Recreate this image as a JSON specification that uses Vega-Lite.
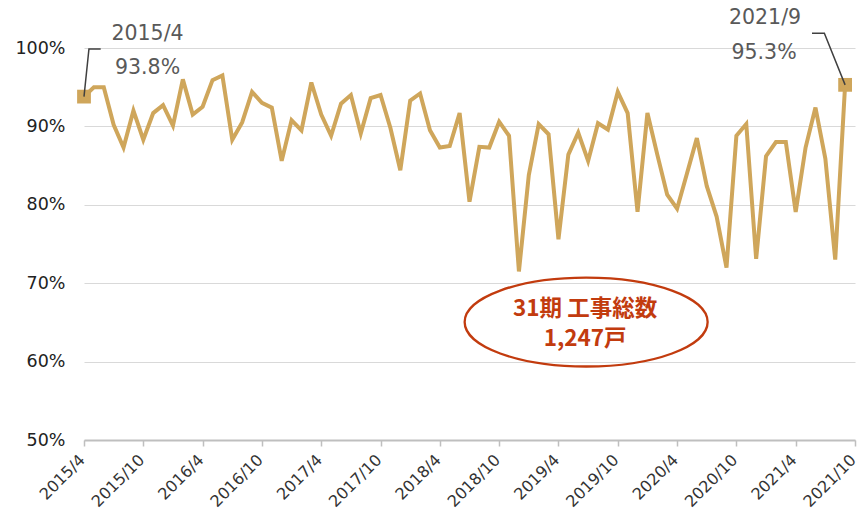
{
  "$schema": "https://vega.github.io/schema/vega-lite/v6.json",
  "width": 771,
  "height": 392,
  "autosize": {"type": "none"},
  "padding": {"left": 84, "top": 48, "right": 5, "bottom": 70},
  "background": "white",
  "config": {"view": {"stroke": null}, "font": "DejaVu Sans"},
  "datasets": {
    "rate": [
      {"idx": 0, "month": "2015/4", "v": 93.8}, {"idx": 1, "month": "2015/5", "v": 95.0}, {"idx": 2, "month": "2015/6", "v": 95.0},
      {"idx": 3, "month": "2015/7", "v": 90.2}, {"idx": 4, "month": "2015/8", "v": 87.3}, {"idx": 5, "month": "2015/9", "v": 92.0},
      {"idx": 6, "month": "2015/10", "v": 88.3}, {"idx": 7, "month": "2015/11", "v": 91.7}, {"idx": 8, "month": "2015/12", "v": 92.7},
      {"idx": 9, "month": "2016/1", "v": 90.1}, {"idx": 10, "month": "2016/2", "v": 96.0}, {"idx": 11, "month": "2016/3", "v": 91.5},
      {"idx": 12, "month": "2016/4", "v": 92.5}, {"idx": 13, "month": "2016/5", "v": 95.9}, {"idx": 14, "month": "2016/6", "v": 96.5},
      {"idx": 15, "month": "2016/7", "v": 88.3}, {"idx": 16, "month": "2016/8", "v": 90.5}, {"idx": 17, "month": "2016/9", "v": 94.4},
      {"idx": 18, "month": "2016/10", "v": 93.0}, {"idx": 19, "month": "2016/11", "v": 92.4}, {"idx": 20, "month": "2016/12", "v": 85.6},
      {"idx": 21, "month": "2017/1", "v": 90.8}, {"idx": 22, "month": "2017/2", "v": 89.5}, {"idx": 23, "month": "2017/3", "v": 95.6},
      {"idx": 24, "month": "2017/4", "v": 91.5}, {"idx": 25, "month": "2017/5", "v": 88.8}, {"idx": 26, "month": "2017/6", "v": 92.9},
      {"idx": 27, "month": "2017/7", "v": 94.0}, {"idx": 28, "month": "2017/8", "v": 89.1}, {"idx": 29, "month": "2017/9", "v": 93.6},
      {"idx": 30, "month": "2017/10", "v": 94.0}, {"idx": 31, "month": "2017/11", "v": 89.8}, {"idx": 32, "month": "2017/12", "v": 84.4},
      {"idx": 33, "month": "2018/1", "v": 93.3}, {"idx": 34, "month": "2018/2", "v": 94.2}, {"idx": 35, "month": "2018/3", "v": 89.5},
      {"idx": 36, "month": "2018/4", "v": 87.3}, {"idx": 37, "month": "2018/5", "v": 87.5}, {"idx": 38, "month": "2018/6", "v": 91.7},
      {"idx": 39, "month": "2018/7", "v": 80.4}, {"idx": 40, "month": "2018/8", "v": 87.4}, {"idx": 41, "month": "2018/9", "v": 87.3},
      {"idx": 42, "month": "2018/10", "v": 90.6}, {"idx": 43, "month": "2018/11", "v": 88.8}, {"idx": 44, "month": "2018/12", "v": 71.5},
      {"idx": 45, "month": "2019/1", "v": 83.8}, {"idx": 46, "month": "2019/2", "v": 90.3}, {"idx": 47, "month": "2019/3", "v": 89.0},
      {"idx": 48, "month": "2019/4", "v": 75.6}, {"idx": 49, "month": "2019/5", "v": 86.4}, {"idx": 50, "month": "2019/6", "v": 89.2},
      {"idx": 51, "month": "2019/7", "v": 85.6}, {"idx": 52, "month": "2019/8", "v": 90.4}, {"idx": 53, "month": "2019/9", "v": 89.6},
      {"idx": 54, "month": "2019/10", "v": 94.4}, {"idx": 55, "month": "2019/11", "v": 91.7}, {"idx": 56, "month": "2019/12", "v": 79.1},
      {"idx": 57, "month": "2020/1", "v": 91.7}, {"idx": 58, "month": "2020/2", "v": 86.4}, {"idx": 59, "month": "2020/3", "v": 81.3},
      {"idx": 60, "month": "2020/4", "v": 79.5}, {"idx": 61, "month": "2020/5", "v": 84.0}, {"idx": 62, "month": "2020/6", "v": 88.5},
      {"idx": 63, "month": "2020/7", "v": 82.4}, {"idx": 64, "month": "2020/8", "v": 78.5}, {"idx": 65, "month": "2020/9", "v": 72.0},
      {"idx": 66, "month": "2020/10", "v": 88.8}, {"idx": 67, "month": "2020/11", "v": 90.3}, {"idx": 68, "month": "2020/12", "v": 73.1},
      {"idx": 69, "month": "2021/1", "v": 86.2}, {"idx": 70, "month": "2021/2", "v": 88.0}, {"idx": 71, "month": "2021/3", "v": 88.0},
      {"idx": 72, "month": "2021/4", "v": 79.1}, {"idx": 73, "month": "2021/5", "v": 87.3}, {"idx": 74, "month": "2021/6", "v": 92.4},
      {"idx": 75, "month": "2021/7", "v": 85.9}, {"idx": 76, "month": "2021/8", "v": 73.0}, {"idx": 77, "month": "2021/9", "v": 95.3}
    ],
    "leaders": [
      {"g": "L", "o": 0, "idx": 0, "v": 93.8}, {"g": "L", "o": 1, "idx": 0.5, "v": 99.87}, {"g": "L", "o": 2, "idx": 1.69, "v": 99.87},
      {"g": "R", "o": 0, "idx": 73.65, "v": 101.87}, {"g": "R", "o": 1, "idx": 74.9, "v": 101.87}, {"g": "R", "o": 2, "idx": 77, "v": 95.3}
    ],
    "labels": [
      {"idx": 6.43, "v": 101.8, "t": "2015/4"}, {"idx": 6.43, "v": 97.45, "t": "93.8%"},
      {"idx": 68.9, "v": 103.8, "t": "2021/9"}, {"idx": 68.8, "v": 99.36, "t": "95.3%"}
    ],
    "callout": [{"idx": 50.8, "v": 65.05}],
    "callouttext": [
      {"idx": 50.7, "v": 66.65, "t": "31期 工事総数"}, {"idx": 50.7, "v": 62.85, "t": "1,247戸"}
    ]
  },
  "layer": [
    {
      "data": {"name": "rate"},
      "mark": {"type": "line", "color": "#CFA65B", "strokeWidth": 4},
      "encoding": {
        "x": {
          "field": "idx", "type": "quantitative",
          "scale": {"domain": [0, 78], "nice": false, "zero": false},
          "axis": {
            "title": null, "grid": false,
            "values": [0, 6, 12, 18, 24, 30, 36, 42, 48, 54, 60, 66, 72, 78],
            "labelExpr": "(2015 + floor((datum.value + 3) / 12)) + '/' + ((datum.value + 3) % 12 + 1)",
            "labelAngle": -45, "labelAlign": "right", "labelBaseline": "middle",
            "labelFontSize": 16, "labelColor": "#333333", "labelPadding": 11, "labelOffset": -2,
            "domainColor": "#bfbfbf", "domainWidth": 2, "tickColor": "#bfbfbf", "tickWidth": 1.5, "tickSize": 6,
            "labelOverlap": false, "labelFlush": false
          }
        },
        "y": {
          "field": "v", "type": "quantitative",
          "scale": {"domain": [50, 100], "nice": false, "zero": false},
          "axis": {
            "title": null, "values": [50, 60, 70, 80, 90, 100],
            "labelExpr": "datum.value + '%'",
            "domain": false, "ticks": false, "labelPadding": 19,
            "labelFontSize": 17.5, "labelColor": "#222222",
            "gridColor": "#d9d9d9", "gridWidth": 1.2
          }
        }
      }
    },
    {
      "data": {"name": "rate"},
      "transform": [{"filter": "datum.idx == 0 || datum.idx == 77"}],
      "mark": {"type": "point", "shape": "square", "filled": true, "size": 190, "color": "#CFA65B", "opacity": 1},
      "encoding": {
        "x": {"field": "idx", "type": "quantitative"},
        "y": {"field": "v", "type": "quantitative"}
      }
    },
    {
      "data": {"name": "leaders"},
      "mark": {"type": "line", "color": "#404040", "strokeWidth": 1.5, "clip": false},
      "encoding": {
        "x": {"field": "idx", "type": "quantitative"},
        "y": {"field": "v", "type": "quantitative"},
        "detail": {"field": "g"},
        "order": {"field": "o"}
      }
    },
    {
      "data": {"name": "labels"},
      "mark": {"type": "text", "fontSize": 20.5, "color": "#595959", "align": "center", "baseline": "middle"},
      "encoding": {
        "x": {"field": "idx", "type": "quantitative"},
        "y": {"field": "v", "type": "quantitative"},
        "text": {"field": "t"}
      }
    },
    {
      "data": {"name": "callout"},
      "mark": {
        "type": "point", "filled": false, "stroke": "#C23B0E", "strokeWidth": 2.3, "opacity": 1, "size": 59049,
        "shape": "M 1 0 C 1 0.2022 0.5523 0.366 0 0.366 C -0.5523 0.366 -1 0.2022 -1 0 C -1 -0.2022 -0.5523 -0.366 0 -0.366 C 0.5523 -0.366 1 -0.2022 1 0 Z"
      },
      "encoding": {
        "x": {"field": "idx", "type": "quantitative"},
        "y": {"field": "v", "type": "quantitative"}
      }
    },
    {
      "data": {"name": "callouttext"},
      "mark": {"type": "text", "font": "Noto Sans CJK JP", "fontWeight": "bold", "fontSize": 22.5, "color": "#C23B0E", "align": "center", "baseline": "middle"},
      "encoding": {
        "x": {"field": "idx", "type": "quantitative"},
        "y": {"field": "v", "type": "quantitative"},
        "text": {"field": "t"}
      }
    }
  ]
}
